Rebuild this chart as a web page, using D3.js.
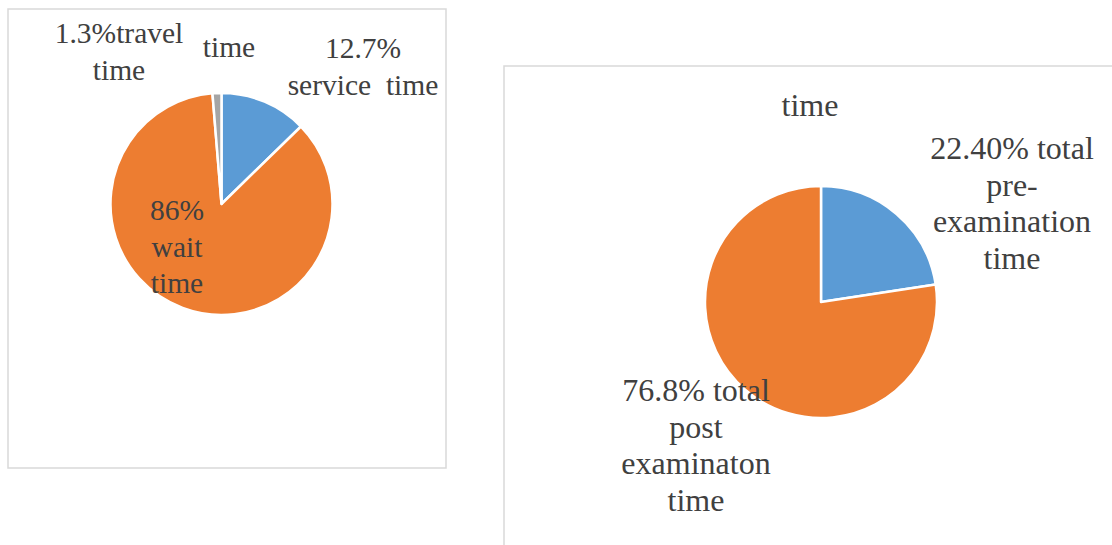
<!DOCTYPE html>
<html>
<head>
<meta charset="utf-8">
<script src="https://cdn.jsdelivr.net/npm/d3@7/dist/d3.min.js"></script>
<style>
  html, body { margin: 0; padding: 0; background: #fff; }
  svg { display: block; }
</style>
</head>
<body>
<svg id="chart" width="1112" height="545"></svg>
<script>
// Left pie: breakdown of visit time
const visitCategories = ["service time", "wait time", "travel time"];
const visitValues = [12.7, 86, 1.3];

// Right pie: pre- vs post-examination time
const examCategories = ["total pre-examination time", "total post examinaton time"];
const examValues = [22.40, 76.8];

const sliceColors = ["#5B9BD5", "#ED7D31", "#A5A5A5"];

// Data label lines, as printed on the chart
const visitLabels = [
  ["12.7%", "service  time"],
  ["86%", "wait", "time"],
  ["1.3%travel", "time"]
];
const examLabels = [
  ["22.40% total", "pre-", "examination", "time"],
  ["76.8% total", "post", "examinaton", "time"]
];

const FONT = '"Liberation Serif"';
const TEXT_COLOR = "#404040";

const svg = d3.select("#chart");

function addText(g, x, y, size, str) {
  return g.append("text")
    .attr("x", x).attr("y", y)
    .attr("text-anchor", "middle")
    .style("font-family", FONT)
    .style("font-size", size + "px")
    .style("fill", TEXT_COLOR)
    .style("white-space", "pre")
    .text(str);
}

function drawPanel(cfg) {
  const g = svg.append("g");
  g.append("rect")
    .attr("x", cfg.box[0]).attr("y", cfg.box[1])
    .attr("width", cfg.box[2]).attr("height", cfg.box[3])
    .attr("fill", "#fff").attr("stroke", "#d9d9d9").attr("stroke-width", 1.5);

  const pie = d3.pie().sort(null).value(d => d.value);
  const arcs = pie(cfg.categories.map((c, i) => ({ name: c, value: cfg.values[i] })));
  const arc = d3.arc().innerRadius(0).outerRadius(cfg.r);
  const color = d3.scaleOrdinal().domain(cfg.categories).range(sliceColors);

  g.append("g")
    .attr("transform", `translate(${cfg.cx},${cfg.cy})`)
    .selectAll("path").data(arcs).join("path")
    .attr("d", arc)
    .attr("fill", d => color(d.data.name))
    .attr("stroke", "#fff").attr("stroke-width", 2.5)
    .attr("stroke-linejoin", "round");

  cfg.labels.forEach((lines, i) => {
    const pos = cfg.labelPos[i];
    lines.forEach((ln, j) => addText(g, pos[0], pos[1] + j * cfg.lineH, cfg.fontSize, ln));
  });

  if (cfg.extra) addText(g, cfg.extra.x, cfg.extra.y, cfg.fontSize, cfg.extra.text);
}

drawPanel({
  box: [8, 9, 438, 459],
  cx: 221.5, cy: 204, r: 111,
  categories: visitCategories, values: visitValues,
  labels: visitLabels,
  labelPos: [[363, 58], [177, 220], [119, 43]],
  fontSize: 29.5, lineH: 36.5,
  extra: { text: "time", x: 229, y: 57 }
});

drawPanel({
  box: [504, 66, 640, 520],
  cx: 821, cy: 302, r: 116,
  categories: examCategories, values: examValues,
  labels: examLabels,
  labelPos: [[1012, 159], [696, 401]],
  fontSize: 32, lineH: 36.5,
  extra: { text: "time", x: 810, y: 116 }
});
</script>
</body>
</html>
